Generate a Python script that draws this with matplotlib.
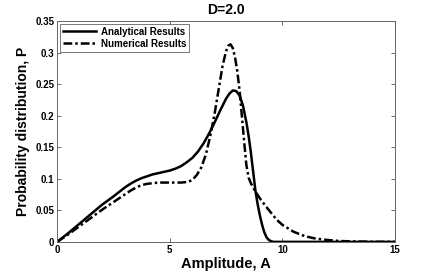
import matplotlib
matplotlib.use("Agg")
import matplotlib.pyplot as plt

# analytical result (solid)
amp_analytical = [0, 0.5, 1, 1.5, 2, 2.5, 2.75, 3, 3.25, 3.5, 3.75, 4, 4.25, 4.5,
                  4.75, 5, 5.25, 5.5, 5.75, 6, 6.25, 6.5, 6.75, 7, 7.25, 7.5, 7.65,
                  7.8, 7.95, 8.1, 8.25, 8.4, 8.5, 8.6, 8.7, 8.8, 8.9, 9, 9.1, 9.2,
                  9.3, 9.4, 9.5, 9.6, 10, 12, 15]
p_analytical = [0, 0.014, 0.029, 0.044, 0.059, 0.072, 0.079, 0.086, 0.092, 0.097,
                0.101, 0.104, 0.107, 0.109, 0.111, 0.113, 0.116, 0.12, 0.126, 0.133,
                0.143, 0.156, 0.172, 0.19, 0.209, 0.227, 0.235, 0.24, 0.239, 0.232,
                0.216, 0.19, 0.168, 0.142, 0.112, 0.082, 0.06, 0.042, 0.027, 0.015,
                0.007, 0.003, 0.001, 0, 0, 0, 0]

# numerical result (dash-dot)
amp_numerical = [0, 0.5, 1, 1.5, 2, 2.5, 3, 3.25, 3.5, 3.75, 4, 4.25, 4.5, 5, 5.5,
                 5.8, 6, 6.2, 6.4, 6.6, 6.8, 7, 7.2, 7.35, 7.5, 7.6, 7.7, 7.8, 7.9,
                 8, 8.1, 8.2, 8.3, 8.4, 8.5, 8.6, 8.8, 9, 9.25, 9.5, 9.75, 10, 10.5,
                 11, 11.5, 12, 12.5, 13, 14, 15]
p_numerical = [0, 0.012, 0.025, 0.038, 0.051, 0.063, 0.075, 0.081, 0.086, 0.09,
               0.092, 0.093, 0.094, 0.094, 0.094, 0.095, 0.098, 0.106, 0.118, 0.138,
               0.168, 0.205, 0.248, 0.28, 0.302, 0.311, 0.313, 0.307, 0.292, 0.27,
               0.24, 0.2, 0.16, 0.122, 0.102, 0.093, 0.08, 0.069, 0.057, 0.046,
               0.035, 0.027, 0.016, 0.009, 0.005, 0.003, 0.0015, 0.0008, 0.0002, 0]

x_ticks = [0, 5, 10, 15]
y_ticks = [0, 0.05, 0.1, 0.15, 0.2, 0.25, 0.3, 0.35]
y_tick_labels = ["0", "0.05", "0.1", "0.15", "0.2", "0.25", "0.3", "0.35"]

plt.rcParams["font.family"] = ["Liberation Sans", "DejaVu Sans"]
plt.rcParams["font.weight"] = "bold"

fig = plt.figure(figsize=(4.36, 2.73), dpi=100)
ax = fig.add_axes([0.131, 0.114, 0.775, 0.809])

ax.plot(amp_analytical, p_analytical, color="black", lw=1.8, ls="-",
        label="Analytical Results")
ax.plot(amp_numerical, p_numerical, color="black", lw=1.8,
        ls=(0, (3.5, 1.2, 1, 1.2)), label="Numerical Results")

ax.set_xlim(0, 15)
ax.set_ylim(0, 0.35)
ax.set_xticks(x_ticks)
ax.set_yticks(y_ticks)
ax.set_yticklabels(y_tick_labels)
ax.tick_params(direction="in", length=3, labelsize=7, width=0.6,
               top=True, right=True, colors="#555555", labelcolor="black", pad=2)
for s in ax.spines.values():
    s.set_color("#666666")
    s.set_linewidth(0.7)

ax.set_xlabel("Amplitude, A", fontsize=10.5, fontweight="bold", labelpad=2)
ax.set_ylabel("Probability distribution, P", fontsize=10, fontweight="bold", labelpad=4)
ax.set_title("D=2.0", fontsize=10, fontweight="bold", pad=5)

leg = ax.legend(loc="upper left", fontsize=7, frameon=True, fancybox=False,
                borderpad=0.3, labelspacing=0.2, handlelength=3.4,
                handletextpad=0.5, borderaxespad=0.3)
leg.get_frame().set_edgecolor("#555555")
leg.get_frame().set_linewidth(0.7)
for t in leg.get_texts():
    t.set_fontweight("bold")

fig.savefig("out.png", dpi=100)
